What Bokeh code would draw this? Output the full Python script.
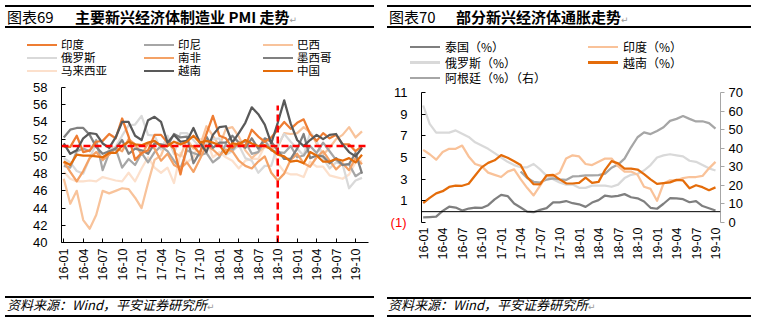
import math
import numpy as np
from bokeh.plotting import figure
from bokeh.models import Range1d, LinearAxis, FixedTicker, Span, Div
from bokeh.layouts import row, column
from bokeh.embed import file_html
from bokeh.resources import INLINE

CJK = "Noto Sans CJK SC"
NUM = "Liberation Sans"

# ------------------------------------------------------------------ data
pmi_months = ["16-01", "16-02", "16-03", "16-04", "16-05", "16-06", "16-07", "16-08", "16-09", "16-10", "16-11", "16-12",
              "17-01", "17-02", "17-03", "17-04", "17-05", "17-06", "17-07", "17-08", "17-09", "17-10", "17-11", "17-12",
              "18-01", "18-02", "18-03", "18-04", "18-05", "18-06", "18-07", "18-08", "18-09", "18-10", "18-11", "18-12",
              "19-01", "19-02", "19-03", "19-04", "19-05", "19-06", "19-07", "19-08", "19-09", "19-10", "19-11"]
tick_months = ["16-01", "16-04", "16-07", "16-10", "17-01", "17-04", "17-07", "17-10",
               "18-01", "18-04", "18-07", "18-10", "19-01", "19-04", "19-07", "19-10"]

pmi_india = [51.1, 51.1, 52.4, 50.5, 50.7, 51.7, 51.8, 52.6, 52.1, 54.4, 52.3, 49.6,
             50.4, 50.7, 52.5, 52.5, 51.6, 50.9, 47.9, 51.2, 51.2, 50.3, 52.6, 54.7,
             52.4, 52.1, 51.0, 51.6, 51.2, 53.1, 52.3, 51.7, 52.2, 53.1, 54.0, 53.2,
             53.9, 54.3, 52.6, 51.8, 52.7, 52.1, 52.5, 51.4, 51.4, 50.6, 51.2]
pmi_indonesia = [48.9, 48.7, 50.6, 50.9, 50.6, 51.9, 48.4, 50.4, 50.9, 48.7, 49.7, 49.0,
                 50.4, 49.3, 50.5, 51.2, 50.6, 49.5, 48.6, 50.7, 50.4, 50.1, 50.4, 49.3,
                 49.9, 51.4, 50.7, 51.6, 51.7, 50.3, 50.5, 51.9, 50.7, 50.5, 50.4, 51.2,
                 49.9, 50.1, 51.2, 50.4, 51.6, 50.6, 49.6, 49.0, 49.1, 47.7, 48.2]
pmi_brazil = [47.4, 44.5, 46.0, 42.6, 41.6, 43.2, 46.0, 45.7, 46.0, 46.3, 46.2, 45.2,
              44.0, 46.9, 49.6, 50.1, 52.0, 50.5, 50.0, 52.0, 50.9, 51.2, 53.5, 52.4,
              51.2, 53.2, 53.4, 52.3, 50.7, 49.8, 50.5, 51.1, 50.9, 51.1, 52.7, 52.6,
              52.7, 53.4, 52.8, 51.5, 50.2, 51.0, 52.0, 52.5, 53.4, 52.2, 52.9]
pmi_russia = [49.8, 49.3, 48.3, 48.0, 49.8, 51.5, 49.5, 50.8, 51.1, 52.4, 53.6, 53.7,
              54.7, 52.5, 52.4, 50.8, 52.4, 50.3, 52.7, 52.7, 51.9, 51.1, 51.5, 52.0,
              52.1, 50.2, 50.6, 51.3, 49.8, 49.5, 48.1, 48.9, 48.9, 51.3, 52.6, 51.7,
              50.9, 50.1, 52.8, 51.8, 49.8, 48.6, 49.3, 49.1, 46.3, 47.2, 47.5]
pmi_south_africa = [49.4, 48.2, 47.1, 48.3, 49.8, 50.5, 49.6, 50.2, 51.0, 50.6, 52.0, 51.4,
                    50.2, 51.5, 50.9, 49.5, 50.3, 49.0, 48.6, 49.3, 48.2, 49.7, 51.3, 50.8,
                    50.1, 50.8, 50.6, 49.5, 48.9, 48.6, 49.4, 50.0, 48.1, 47.2, 48.0, 49.6,
                    50.3, 49.2, 48.8, 49.9, 50.6, 49.5, 48.5, 49.2, 48.4, 49.8, 49.1]
pmi_mexico = [52.2, 53.1, 53.3, 53.3, 52.5, 51.1, 50.3, 50.6, 50.9, 51.9, 50.3, 50.9,
              50.7, 50.3, 51.5, 51.4, 51.2, 52.6, 52.2, 52.3, 49.2, 50.5, 52.3, 51.0,
              51.6, 51.6, 52.4, 51.6, 51.0, 52.1, 50.9, 52.1, 51.7, 50.7, 49.7, 49.7,
              50.9, 52.6, 49.8, 50.1, 50.0, 49.2, 49.8, 49.0, 49.1, 50.4, 48.0]
pmi_malaysia = [48.2, 47.4, 47.1, 47.1, 47.2, 47.1, 47.6, 47.4, 47.2, 47.1, 48.1, 47.1,
                48.6, 49.9, 48.7, 48.1, 48.7, 46.9, 50.4, 49.3, 49.9, 52.0, 52.0, 49.9,
                50.5, 49.9, 49.5, 48.6, 49.5, 49.7, 49.7, 51.2, 51.5, 49.2, 48.2, 47.9,
                47.9, 47.6, 49.4, 48.8, 48.8, 47.8, 47.6, 47.4, 47.9, 49.3, 49.5]
pmi_vietnam = [51.5, 50.3, 50.7, 52.1, 52.7, 52.6, 51.5, 51.0, 52.2, 54.0, 54.0, 52.4,
               51.9, 54.2, 54.6, 54.0, 51.6, 52.5, 51.7, 51.8, 53.3, 51.6, 50.5, 52.5,
               53.4, 53.5, 51.6, 52.7, 53.9, 55.7, 54.9, 53.7, 51.5, 53.9, 56.5, 53.8,
               51.9, 51.2, 51.9, 52.5, 52.0, 52.5, 52.6, 51.4, 50.5, 50.0, 51.0]
pmi_china = [49.4, 49.0, 50.2, 50.1, 50.1, 50.0, 49.9, 50.4, 50.4, 51.2, 51.7, 51.4,
             51.3, 51.6, 51.8, 51.2, 51.2, 51.7, 51.4, 51.7, 52.4, 51.6, 51.8, 51.6,
             51.3, 50.3, 51.5, 51.4, 51.9, 51.5, 51.2, 51.3, 50.8, 50.2, 50.0, 49.4,
             49.5, 49.2, 50.5, 50.1, 49.4, 49.4, 49.7, 49.5, 49.8, 49.3, 50.2]
pmi_ref_level = 51.2
pmi_ref_month = "18-10"
pmi_ref_top = 55.9
pmi_y_ticks = [40, 42, 44, 46, 48, 50, 52, 54, 56, 58]

cpi_months = pmi_months[:46]
cpi_thailand = [-0.53, -0.50, -0.46, 0.07, 0.46, 0.38, 0.10, 0.29, 0.38, 0.34, 0.60, 1.13,
                1.55, 1.44, 0.76, 0.38, 0.00, -0.05, 0.17, 0.32, 0.86, 0.86, 0.98, 0.78,
                0.68, 0.44, 0.84, 1.07, 1.49, 1.38, 1.46, 1.62, 1.33, 1.23, 0.94, 0.36,
                0.27, 0.73, 1.24, 1.23, 1.15, 0.87, 0.98, 0.52, 0.32, 0.11]
cpi_india = [5.7, 5.3, 4.8, 5.5, 5.8, 5.8, 6.1, 5.1, 4.4, 4.2, 3.6, 3.4,
             3.2, 3.7, 3.9, 3.0, 2.2, 1.5, 2.4, 3.3, 3.3, 3.6, 4.9, 5.2,
             5.1, 4.4, 4.3, 4.6, 4.9, 4.9, 4.2, 3.7, 3.7, 3.4, 2.3, 2.1,
             1.0, 2.6, 2.9, 2.9, 3.1, 3.2, 3.2, 3.3, 4.0, 4.6]
cpi_russia = [9.8, 8.1, 7.3, 7.3, 7.3, 7.5, 7.2, 6.9, 6.4, 6.1, 5.8, 5.4,
              5.0, 4.6, 4.3, 4.1, 4.1, 4.4, 3.9, 3.3, 3.0, 2.7, 2.5, 2.5,
              2.2, 2.2, 2.4, 2.4, 2.4, 2.3, 2.5, 3.1, 3.4, 3.5, 3.8, 4.3,
              5.0, 5.2, 5.3, 5.2, 5.1, 4.7, 4.6, 4.3, 4.0, 3.8]
cpi_vietnam = [0.80, 1.27, 1.69, 1.89, 2.28, 2.40, 2.39, 2.58, 3.34, 4.09, 4.50, 4.74,
               5.22, 4.98, 4.65, 4.30, 3.19, 2.54, 2.52, 3.35, 3.40, 2.98, 2.62, 2.60,
               2.65, 3.15, 2.66, 2.75, 3.86, 4.67, 4.46, 3.98, 3.98, 3.89, 3.46, 2.98,
               2.56, 2.64, 2.70, 2.93, 2.88, 2.16, 2.44, 2.26, 1.98, 2.24]
cpi_argentina = [None] * 15 + [27.5, 24.0, 21.9, 21.5, 23.1, 23.8, 23.2, 22.9, 24.8,
                               25.0, 25.4, 25.4, 25.5, 26.3, 29.5, 31.2, 34.4, 40.5, 45.9, 48.5, 47.6,
                               49.3, 51.3, 54.7, 55.8, 57.3, 55.8, 54.4, 54.5, 53.5, 50.5]
cpi_y_ticks = [-1, 1, 3, 5, 7, 9, 11]
arg_y_ticks = [0, 10, 20, 30, 40, 50, 60, 70]

left_series = [  # name, values, colour (drawing order)
    ("马来西亚", pmi_malaysia, "#FCE0CC"),
    ("巴西", pmi_brazil, "#F8C39B"),
    ("俄罗斯", pmi_russia, "#D9D9D9"),
    ("印尼", pmi_indonesia, "#A6A6A6"),
    ("南非", pmi_south_africa, "#F4A266"),
    ("墨西哥", pmi_mexico, "#808080"),
    ("印度", pmi_india, "#EE7D33"),
    ("越南", pmi_vietnam, "#595959"),
    ("中国", pmi_china, "#E46C0A"),
]
left_legend_rows = [["印度", "印尼", "巴西"], ["俄罗斯", "南非", "墨西哥"], ["马来西亚", "越南", "中国"]]

right_series = [
    ("俄罗斯（%）", cpi_russia, "#D9D9D9", "default"),
    ("阿根廷（%）（右）", cpi_argentina, "#A6A6A6", "right"),
    ("印度（%）", cpi_india, "#F9C299", "default"),
    ("泰国（%）", cpi_thailand, "#7F7F7F", "default"),
    ("越南（%）", cpi_vietnam, "#E46C0A", "default"),
]
right_legend_rows = [["泰国（%）", "印度（%）"], ["俄罗斯（%）", "越南（%）"], ["阿根廷（%）（右）"]]


# ------------------------------------------------------------------ helpers
def base_fig(width, height, fl, fr, ft, fb, xr, yr):
    p = figure(width=width, height=height, x_range=xr, y_range=yr,
               output_backend="svg", toolbar_location=None,
               min_border_left=fl, min_border_right=width - fr,
               min_border_top=ft, min_border_bottom=height - fb)
    p.outline_line_color = None
    p.grid.visible = False
    p.background_fill_color = "white"
    p.border_fill_color = "white"
    if "frame_align" in p.properties():
        p.frame_align = False
    return p


def style_axis(ax, size="13px"):
    ax.major_label_text_font = NUM
    ax.major_label_text_font_size = size
    ax.major_label_text_color = "black"
    ax.axis_line_color = "black"
    ax.major_tick_line_color = "black"
    ax.major_tick_in = 4
    ax.major_tick_out = 0
    ax.minor_tick_line_color = None


def rule(x1, x2, y, t=1.2):
    return (f'<div style="position:absolute;left:{x1}px;top:{y - t / 2}px;width:{x2 - x1}px;'
            f'height:{t}px;background:#000;"></div>')


def txt(x, cy, s, size, extra="", lh=None):
    lh = lh or round(size * 1.3)
    return (f'<span style="position:absolute;left:{x}px;top:{cy - lh / 2}px;font-size:{size}px;'
            f'line-height:{lh}px;white-space:nowrap;{extra}">{s}</span>')


def swatch(x, cy, color, w=30, t=2.2):
    return (f'<div style="position:absolute;left:{x}px;top:{cy - t / 2}px;width:{w}px;height:{t}px;'
            f'background:{color};"></div>')


def box(w, h, inner):
    return (f'<div style="position:relative;width:{w}px;height:{h}px;overflow:visible;'
            f'font-family:\'{CJK}\';color:#000;">{inner}</div>')


def make_div(w, h, inner):
    return Div(text=box(w, h, inner), width=w, height=h, margin=(0, 0, 0, 0),
               styles={"margin": "0", "padding": "0"})


RET = '<span style="font-family:\'DejaVu Sans\';font-size:9px;color:#999;font-weight:normal;">↵</span>'
LEG_FONT = f"font-family:'{NUM}','{CJK}';"

# ------------------------------------------------------------------ left chart
H1_TOP = 78            # header height
F1_H = 218             # figure height
FL, FR = 61, 368       # frame x (page)
FT, FB = 87 - H1_TOP, 242 - H1_TOP
lx = list(range(len(pmi_months)))
p1 = base_fig(380, F1_H, FL, FR, FT, FB, Range1d(-0.35, 47.0), Range1d(40, 58))

style_axis(p1.yaxis[0])
p1.yaxis.ticker = FixedTicker(ticks=pmi_y_ticks)
p1.yaxis.major_label_standoff = 14

style_axis(p1.xaxis[0], "12.5px")
tick_idx = [pmi_months.index(m) for m in tick_months]
p1.xaxis.ticker = FixedTicker(ticks=tick_idx)
p1.xaxis.major_label_overrides = {i: pmi_months[i] for i in tick_idx}
p1.xaxis.major_label_orientation = math.pi / 2
p1.xaxis.major_label_standoff = 6

left_colors = {}
for name, vals, col in left_series:
    p1.line(lx, vals, line_color=col, line_width=2.25, line_join="round")
    left_colors[name] = col

p1.add_layout(Span(location=pmi_ref_level, dimension="width", line_color="#FF0000",
                   line_width=2.5, line_dash="7 4"))
mi = pmi_months.index(pmi_ref_month)
p1.segment(x0=[mi], y0=[40], x1=[mi], y1=[pmi_ref_top], line_color="#FF0000",
           line_width=2.5, line_dash="7 4")

hdr1 = [rule(5, 374, 6, 1.2), rule(5, 374, 27, 1.5),
        txt(7, 16.5, "图表69", 15),
        txt(75, 16.5, "主要新兴经济体制造业 PMI 走势" + RET, 15, "font-weight:bold;")]
for cy, names in zip([45.3, 58.3, 71.3], left_legend_rows):
    for c_i, name in enumerate(names):
        x0 = [27, 144, 263][c_i]
        hdr1.append(swatch(x0, cy, left_colors[name]))
        hdr1.append(txt(x0 + 34, cy, name, 11.5, LEG_FONT, lh=12))
header1 = make_div(380, H1_TOP, "".join(hdr1))

F1_FOOT = 325 - H1_TOP - F1_H
ftr1 = [rule(5, 374, 1, 1.2), rule(5, 374, 20, 1.2),
        txt(7, 8, "资料来源：Wind，平安证券研究所" + RET, 13, "font-style:italic;")]
footer1 = make_div(380, F1_FOOT, "".join(ftr1))

# ------------------------------------------------------------------ right chart
H2_TOP = 86
F2_H = 211
GL, GR = 421 - 380, 720 - 380
GT, GB = 92 - H2_TOP, 222 - H2_TOP
rx = list(range(len(cpi_months)))
p2 = base_fig(383, F2_H, GL, GR, GT, GB, Range1d(-0.26, 45.77), Range1d(-1, 11))
p2.extra_y_ranges = {"right": Range1d(0, 70)}

style_axis(p2.yaxis[0])
p2.yaxis[0].ticker = FixedTicker(ticks=cpi_y_ticks)
p2.yaxis[0].major_label_overrides = {-1: ""}
p2.yaxis[0].major_label_standoff = 14

ax_red = LinearAxis(ticker=FixedTicker(ticks=[cpi_y_ticks[0]]),
                    major_label_overrides={cpi_y_ticks[0]: "(1)"})
style_axis(ax_red)
ax_red.major_label_text_color = "#FF0000"
ax_red.axis_line_color = None
ax_red.major_tick_line_color = None
ax_red.major_label_standoff = -15
p2.add_layout(ax_red, "left")

style_axis(p2.xaxis[0], "12.5px")
p2.xaxis.ticker = FixedTicker(ticks=tick_idx)
p2.xaxis.major_label_overrides = {i: cpi_months[i] for i in tick_idx}
p2.xaxis.major_label_orientation = math.pi / 2
p2.xaxis.major_label_standoff = 5
p2.xaxis.axis_line_color = None
p2.xaxis.major_tick_line_color = None

ax_r = LinearAxis(y_range_name="right", ticker=FixedTicker(ticks=arg_y_ticks))
style_axis(ax_r)
ax_r.axis_line_color = "#A6A6A6"
ax_r.major_tick_line_color = "#A6A6A6"
ax_r.major_tick_in = 0
ax_r.major_tick_out = 4
ax_r.major_label_standoff = 4
p2.add_layout(ax_r, "right")

p2.add_layout(Span(location=0, dimension="width", line_color="black", line_width=1))

right_colors = {}
for name, vals, col, rng in right_series:
    arr = np.array([np.nan if v is None else v for v in vals], dtype=float)
    p2.line(rx, arr, line_color=col, line_width=2.25, line_join="round", y_range_name=rng)
    right_colors[name] = col

hdr2 = [rule(7, 371, 6, 1.2), rule(7, 371, 27, 1.5),
        txt(9, 16.5, "图表70", 15),
        txt(76, 16.5, "部分新兴经济体通胀走势" + RET, 15, "font-weight:bold;")]
for cy, names in zip([47, 62.5, 78], right_legend_rows):
    for c_i, name in enumerate(names):
        x0 = [30, 208][c_i]
        hdr2.append(swatch(x0, cy, right_colors[name]))
        hdr2.append(txt(x0 + 35, cy, name, 12, lh=14))
header2 = make_div(383, H2_TOP, "".join(hdr2))

F2_FOOT = 325 - H2_TOP - F2_H
ftr2 = [rule(7, 371, 1, 1.2), rule(7, 371, 19, 1.2),
        txt(8, 7, "资料来源：Wind，平安证券研究所" + RET, 13, "font-style:italic;")]
footer2 = make_div(383, F2_FOOT, "".join(ftr2))

layout = row(column(header1, p1, footer1, spacing=0), column(header2, p2, footer2, spacing=0), spacing=0)
open("out.html", "w").write(file_html(layout, INLINE))
